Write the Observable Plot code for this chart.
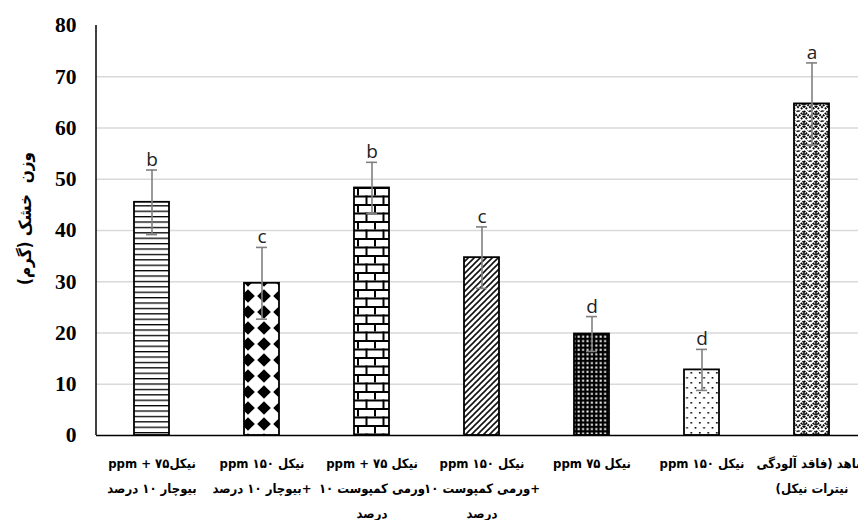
<!DOCTYPE html>
<html>
<head>
<meta charset="utf-8">
<script src="https://cdn.jsdelivr.net/npm/d3@7"></script>
<script src="https://cdn.jsdelivr.net/npm/@observablehq/plot@0.6"></script>
<style>
  html, body { margin: 0; padding: 0; background: white; }
  #chart { width: 858px; height: 520px; overflow: hidden; }
</style>
</head>
<body>
<div id="chart"></div>
<script>
// ---- data ----
const categories = [
  "نیکل۷۵ + ppm\nبیوچار ۱۰ درصد",
  "نیکل ۱۵۰ ppm\n+بیوچار ۱۰ درصد",
  "نیکل ۷۵ + ppm\nورمی کمپوست ۱۰\nدرصد",
  "نیکل ۱۵۰ ppm\n+ورمی کمپوست ۱۰\nدرصد",
  "نیکل ۷۵ ppm",
  "نیکل ۱۵۰ ppm",
  "شاهد (فاقد آلودگی\nنیترات نیکل)"
];
const values = [45.5, 29.7, 48.3, 34.7, 19.8, 12.8, 64.7];
const errors = [6.3, 7.0, 5.0, 6.0, 3.4, 4.0, 8.0];
const letters = ["b", "c", "b", "c", "d", "d", "a"];
const patterns = ["p1", "p2", "p3", "p4", "p5", "p6", "p7"];
const yTicks = [0, 10, 20, 30, 40, 50, 60, 70, 80];
const gridTicks = [10, 20, 30, 40, 50, 60, 70];
const yLabel = "وزن  خشک (گرم)";

const data = categories.map((c, i) => ({
  cat: c, v: values[i], lo: values[i] - errors[i], hi: values[i] + errors[i],
  letter: letters[i], fill: `url(#${patterns[i]})`
}));

const cap = {stroke: "#808080", strokeWidth: 1.6, insetLeft: 12, insetRight: 12};

const plot = Plot.plot({
  width: 858,
  height: 520,
  marginTop: 25,
  marginBottom: 85,
  marginLeft: 96,
  marginRight: 0,
  style: {background: "white"},
  x: {domain: categories, range: [96, 867], paddingInner: 0.68, paddingOuter: 0.34, label: null},
  y: {domain: [0, 80], label: null},
  color: {type: "identity"},
  marks: [
    Plot.ruleY(gridTicks, {stroke: "#d9d9d9", strokeWidth: 1.3}),
    Plot.barY(data, {x: "cat", y: "v", fill: "fill", stroke: "black", strokeWidth: 1.8}),
    Plot.ruleX(data, {x: "cat", y1: "lo", y2: "hi", stroke: "#808080", strokeWidth: 1.6}),
    Plot.tickY(data, {x: "cat", y: "hi", ...cap}),
    Plot.tickY(data, {x: "cat", y: "lo", ...cap}),
    Plot.text(data, {x: "cat", y: "hi", text: "letter", dy: -4, lineAnchor: "bottom",
      fontSize: 19, fontFamily: "Open Sans", fill: "#222"}),
    Plot.ruleY([0], {stroke: "black", strokeWidth: 1.5}),
    Plot.axisY({ticks: yTicks, tickSize: 0, tickPadding: 20, fontSize: 21.5, fontWeight: "bold",
      fontFamily: "Liberation Serif", label: null, fill: "black"}),
    Plot.axisX({tickSize: 0, tickPadding: 15, fontSize: 13, fontWeight: "bold",
      fontFamily: "DejaVu Sans Condensed, DejaVu Sans", lineHeight: 1.92, label: null, fill: "black"}),
    Plot.text([yLabel], {frameAnchor: "left", textAnchor: "middle", rotate: -90, dx: -71, dy: -12,
      fontSize: 17, fontWeight: "bold", fontFamily: "DejaVu Sans Condensed, DejaVu Sans", fill: "black"})
  ]
});

// pattern definitions
const ns = "http://www.w3.org/2000/svg";
const defs = document.createElementNS(ns, "defs");
defs.innerHTML = `
<pattern id="p1" patternUnits="userSpaceOnUse" width="8" height="5.4">
  <rect width="8" height="5.4" fill="white"/>
  <rect y="0" width="8" height="1.3" fill="black"/>
</pattern>
<pattern id="p2" patternUnits="userSpaceOnUse" width="16" height="16">
  <rect width="16" height="16" fill="white"/>
  <path d="M8,1.2 L14.8,8 L8,14.8 L1.2,8Z" fill="black"/>
</pattern>
<pattern id="p3" patternUnits="userSpaceOnUse" width="17" height="17">
  <rect width="17" height="17" fill="white"/>
  <rect y="0" width="17" height="2" fill="black"/>
  <rect y="8.5" width="17" height="2" fill="black"/>
  <rect x="0" y="0" width="2" height="8.5" fill="black"/>
  <rect x="8.5" y="8.5" width="2" height="8.5" fill="black"/>
</pattern>
<pattern id="p4" patternUnits="userSpaceOnUse" width="6" height="6">
  <rect width="6" height="6" fill="white"/>
  <path d="M-1,7 L7,-1 M-1,1 L1,-1 M5,7 L7,5" stroke="#111" stroke-width="1.6"/>
</pattern>
<pattern id="p5" patternUnits="userSpaceOnUse" width="4.4" height="4.4">
  <rect width="4.4" height="4.4" fill="black"/>
  <rect x="1.3" y="1.3" width="2" height="2" fill="white"/>
</pattern>
<pattern id="p6" patternUnits="userSpaceOnUse" width="8.5" height="10">
  <rect width="8.5" height="10" fill="white"/>
  <rect x="2" y="2" width="1.6" height="1.6" fill="black"/>
  <rect x="6.25" y="7" width="1.6" height="1.6" fill="black"/>
</pattern>
<pattern id="p7" patternUnits="userSpaceOnUse" width="12" height="10">
  <rect width="12" height="10" fill="white"/>
  <path d="M0,1 L6,7 L12,1" fill="none" stroke="#000" stroke-width="2" stroke-dasharray="1.7 0.8"/>
  <path d="M0,6 L3,9 M9,9 L12,6" fill="none" stroke="#000" stroke-width="2" stroke-dasharray="1.7 0.8"/>
  <path d="M3,-1 L6,2 L9,-1" fill="none" stroke="#000" stroke-width="1.6" stroke-dasharray="1.5 0.9"/>
  <path d="M0,3.5 L1.5,5 M12,3.5 L10.5,5" fill="none" stroke="#000" stroke-width="1.4"/>
</pattern>`;
plot.insertBefore(defs, plot.firstChild);

// left axis line, from the scales
const ys = plot.scale("y"), xs = plot.scale("x");
const left = document.createElementNS(ns, "line");
left.setAttribute("x1", xs.range[0]);
left.setAttribute("x2", xs.range[0]);
left.setAttribute("y1", ys.apply(0));
left.setAttribute("y2", ys.apply(80));
left.setAttribute("stroke", "black");
left.setAttribute("stroke-width", "1.5");
plot.appendChild(left);

// right-to-left text for Persian labels
plot.querySelectorAll("text").forEach(t => {
  if (/[\u0600-\u06FF]/.test(t.textContent)) t.setAttribute("direction", "rtl");
});

document.getElementById("chart").appendChild(plot);
</script>
</body>
</html>
